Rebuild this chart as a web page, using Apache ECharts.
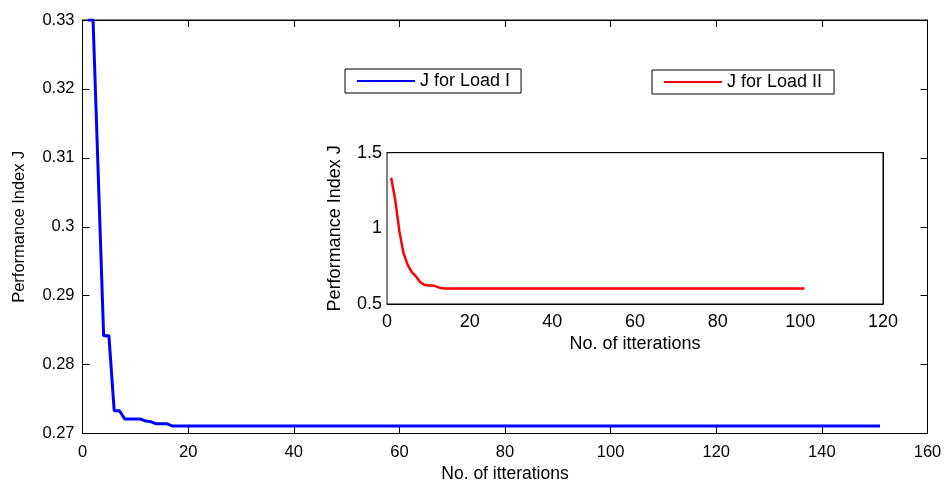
<!DOCTYPE html>
<html>
<head>
<meta charset="utf-8">
<script src="https://cdn.jsdelivr.net/npm/echarts@6/dist/echarts.min.js"></script>
<style>html,body{margin:0;padding:0;background:#fff;}#c{width:945px;height:486px;}</style>
</head>
<body>
<div id="c"></div>
<script>
// ---- data ----
const loadILabel = 'J for Load I';
const loadIILabel = 'J for Load II';
const xTitle = 'No. of itterations';
const yTitle = 'Performance Index J';

// Load I: performance index per iteration (iterations 1..151)
const loadI = [
  0.3300, 0.3300, 0.3071, 0.2842, 0.2842, 0.2733, 0.2733, 0.2721, 0.2721, 0.2721,
  0.2721, 0.2718, 0.2717, 0.2714, 0.2714, 0.2714,
  0.2711, 0.2711, 0.2711, 0.2711, 0.2711, 0.2711, 0.2711, 0.2711, 0.2711, 0.2711, 0.2711, 0.2711, 0.2711, 0.2711, 0.2711,
  0.2711, 0.2711, 0.2711, 0.2711, 0.2711, 0.2711, 0.2711, 0.2711, 0.2711, 0.2711, 0.2711, 0.2711, 0.2711, 0.2711, 0.2711,
  0.2711, 0.2711, 0.2711, 0.2711, 0.2711, 0.2711, 0.2711, 0.2711, 0.2711, 0.2711, 0.2711, 0.2711, 0.2711, 0.2711, 0.2711,
  0.2711, 0.2711, 0.2711, 0.2711, 0.2711, 0.2711, 0.2711, 0.2711, 0.2711, 0.2711, 0.2711, 0.2711, 0.2711, 0.2711, 0.2711,
  0.2711, 0.2711, 0.2711, 0.2711, 0.2711, 0.2711, 0.2711, 0.2711, 0.2711, 0.2711, 0.2711, 0.2711, 0.2711, 0.2711, 0.2711,
  0.2711, 0.2711, 0.2711, 0.2711, 0.2711, 0.2711, 0.2711, 0.2711, 0.2711, 0.2711, 0.2711, 0.2711, 0.2711, 0.2711, 0.2711,
  0.2711, 0.2711, 0.2711, 0.2711, 0.2711, 0.2711, 0.2711, 0.2711, 0.2711, 0.2711, 0.2711, 0.2711, 0.2711, 0.2711, 0.2711,
  0.2711, 0.2711, 0.2711, 0.2711, 0.2711, 0.2711, 0.2711, 0.2711, 0.2711, 0.2711, 0.2711, 0.2711, 0.2711, 0.2711, 0.2711,
  0.2711, 0.2711, 0.2711, 0.2711, 0.2711, 0.2711, 0.2711, 0.2711, 0.2711, 0.2711, 0.2711, 0.2711, 0.2711, 0.2711, 0.2711
];

// Load II: performance index per iteration (iterations 1..101)
const loadII = [
  1.335, 1.187, 0.980, 0.836, 0.759, 0.710, 0.682, 0.645, 0.627, 0.623,
  0.623, 0.615, 0.605,
  0.603, 0.603, 0.603, 0.603, 0.603, 0.603, 0.603, 0.603, 0.603, 0.603, 0.603,
  0.603, 0.603, 0.603, 0.603, 0.603, 0.603, 0.603, 0.603, 0.603, 0.603, 0.603,
  0.603, 0.603, 0.603, 0.603, 0.603, 0.603, 0.603, 0.603, 0.603, 0.603, 0.603,
  0.603, 0.603, 0.603, 0.603, 0.603, 0.603, 0.603, 0.603, 0.603, 0.603, 0.603,
  0.603, 0.603, 0.603, 0.603, 0.603, 0.603, 0.603, 0.603, 0.603, 0.603, 0.603,
  0.603, 0.603, 0.603, 0.603, 0.603, 0.603, 0.603, 0.603, 0.603, 0.603, 0.603,
  0.603, 0.603, 0.603, 0.603, 0.603, 0.603, 0.603, 0.603, 0.603, 0.603, 0.603,
  0.603, 0.603, 0.603, 0.603, 0.603, 0.603, 0.603, 0.603, 0.603, 0.603, 0.603
];

// axis ranges / ticks
const mainX = {min: 0, max: 160, interval: 20};
const mainY = {min: 0.27, max: 0.33, interval: 0.01};
const insetX = {min: 0, max: 120, interval: 20};
const insetY = {min: 0.5, max: 1.5, interval: 0.5};

// ---- build ----
const pairsI = loadI.map((v, i) => [i + 1, v]);
const pairsII = loadII.map((v, i) => [i + 1, v]);

const FONT = 'Liberation Sans, Arial, sans-serif';
const BLACK = '#000';

function axis(kind, grid, rng, opts) {
  const o = Object.assign({
    type: 'value', gridIndex: grid, min: rng.min, max: rng.max, interval: rng.interval,
    splitLine: {show: false},
    axisLine: {show: true, onZero: false, lineStyle: {color: BLACK, width: 1}},
    axisTick: {show: true, inside: true, length: 7, lineStyle: {color: BLACK, width: 1}},
    axisLabel: {show: true, color: BLACK, fontFamily: FONT, fontSize: 16.5, margin: kind === 'x' ? 10 : 8,
                showMinLabel: true, showMaxLabel: true}
  }, opts || {});
  return o;
}

const chart = echarts.init(document.getElementById('c'), null, {renderer: 'canvas'});
chart.setOption({
  animation: false,
  backgroundColor: '#fff',
  grid: [
    {left: 82.5, right: 17.5, top: 20, bottom: 52.5, show: true, borderColor: BLACK, borderWidth: 1,
     backgroundColor: '#fff', containLabel: false, outerBoundsMode: 'none'},
    {left: 387, right: 62, top: 152.7, bottom: 182, show: true, borderColor: BLACK, borderWidth: 1,
     backgroundColor: '#fff', z: 5, containLabel: false, outerBoundsMode: 'none'}
  ],
  xAxis: [
    axis('x', 0, mainX, {position: 'bottom', name: xTitle, nameLocation: 'middle', nameGap: 28,
      nameTextStyle: {color: BLACK, fontFamily: FONT, fontSize: 17.5}}),
    axis('x', 0, mainX, {position: 'top', axisLabel: {show: false}}),
    axis('x', 1, insetX, {position: 'bottom', name: xTitle, nameLocation: 'middle', nameGap: 31,
      nameTextStyle: {color: BLACK, fontFamily: FONT, fontSize: 18},
      axisTick: {show: true, inside: true, length: 6, lineStyle: {color: BLACK}},
      axisLabel: {show: true, color: BLACK, fontFamily: FONT, fontSize: 18, margin: 9, showMinLabel: true, showMaxLabel: true}}),
    axis('x', 1, insetX, {position: 'top', axisLabel: {show: false},
      axisTick: {show: true, inside: true, length: 6, lineStyle: {color: BLACK}}})
  ],
  yAxis: [
    axis('y', 0, mainY, {position: 'left', name: yTitle, nameLocation: 'middle', nameGap: 55,
      nameTextStyle: {color: BLACK, fontFamily: FONT, fontSize: 16.5}}),
    axis('y', 0, mainY, {position: 'right', axisLabel: {show: false}}),
    axis('y', 1, insetY, {position: 'left', name: yTitle, nameLocation: 'middle', nameGap: 43,
      nameTextStyle: {color: BLACK, fontFamily: FONT, fontSize: 18},
      axisTick: {show: true, inside: true, length: 6, lineStyle: {color: BLACK}},
      axisLabel: {show: true, color: BLACK, fontFamily: FONT, fontSize: 18, margin: 5, showMinLabel: true, showMaxLabel: true}}),
    axis('y', 1, insetY, {position: 'right', axisLabel: {show: false},
      axisTick: {show: true, inside: true, length: 6, lineStyle: {color: BLACK}}})
  ],
  legend: [
    {data: [{name: loadILabel, icon: 'rect'}], left: 345, top: 69, orient: 'horizontal',
     backgroundColor: '#fff', borderColor: BLACK, borderWidth: 1, borderRadius: 0,
     padding: [3, 11, 3, 12], itemWidth: 58, itemHeight: 2, selectedMode: false,
     textStyle: {color: BLACK, fontFamily: FONT, fontSize: 18}},
    {data: [{name: loadIILabel, icon: 'rect'}], left: 652, top: 70, orient: 'horizontal',
     backgroundColor: '#fff', borderColor: BLACK, borderWidth: 1, borderRadius: 0,
     padding: [3, 12, 3, 12], itemWidth: 58, itemHeight: 2, selectedMode: false,
     textStyle: {color: BLACK, fontFamily: FONT, fontSize: 18}}
  ],
  series: [
    {name: loadILabel, type: 'line', xAxisIndex: 0, yAxisIndex: 0, data: pairsI,
     showSymbol: false, symbol: 'none', clip: true,
     lineStyle: {color: '#0000FF', width: 3}, itemStyle: {color: '#0000FF'}},
    {name: loadIILabel, type: 'line', xAxisIndex: 2, yAxisIndex: 2, data: pairsII,
     showSymbol: false, symbol: 'none', clip: true, z: 6,
     lineStyle: {color: '#FF0000', width: 2.5}, itemStyle: {color: '#FF0000'}}
  ]
});
</script>
</body>
</html>
